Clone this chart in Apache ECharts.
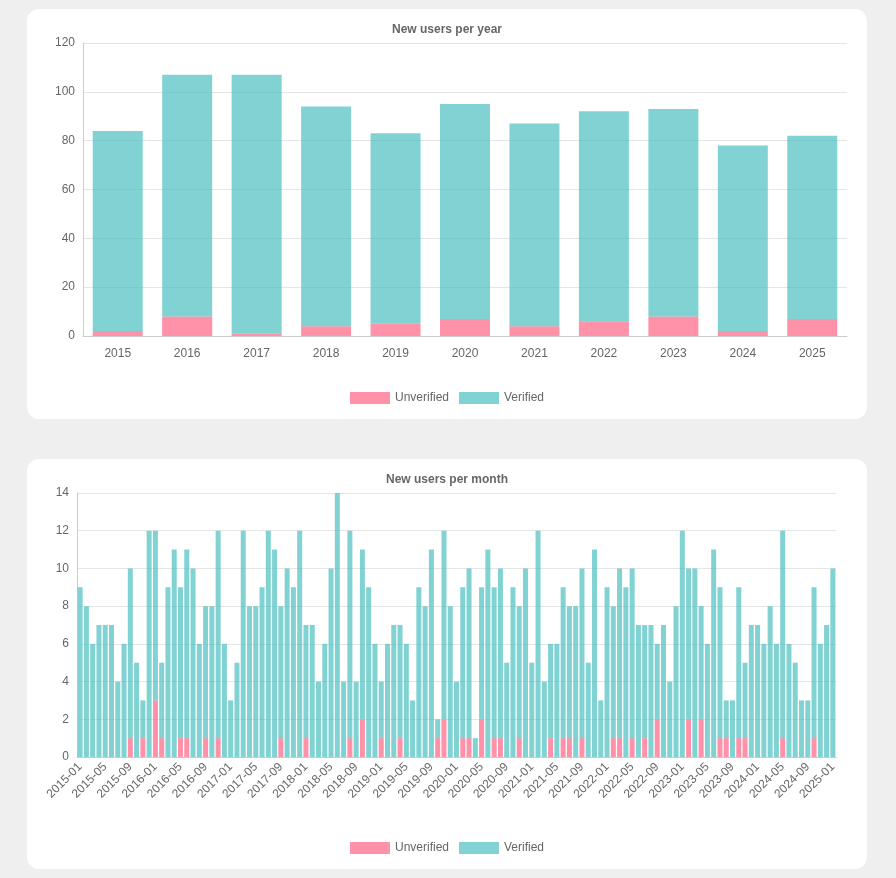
<!DOCTYPE html>
<html>
<head>
<meta charset="utf-8">
<script src="https://cdn.jsdelivr.net/npm/echarts@6/dist/echarts.min.js"></script>
<style>
body{margin:0;background:#efefef;font-family:"Liberation Sans",Arial,sans-serif;}
.card{position:absolute;left:27px;width:840px;height:410px;background:#fff;border-radius:12px;}
</style>
</head>
<body>
<div class="card" id="yearChart" style="top:9px"></div>
<div class="card" id="monthChart" style="top:459px"></div>
<script>
var years = ['2015','2016','2017','2018','2019','2020','2021','2022','2023','2024','2025'];
var yearUnverified = [2,8,1,4,5,7,4,6,8,2,7];
var yearVerified = [82,99,106,90,78,88,83,86,85,76,75];

var months = [];
for (var y = 2015; y <= 2025; y++) {
    for (var m = 1; m <= 12; m++) {
        if (y == 2025 && m > 1) break;
        months.push(y + '-' + (m < 10 ? '0' + m : m));
    }
}
var monthUnverified = [
    0,0,0,0,0,0,0,0,1,0,1,0,
    3,1,0,0,1,1,0,0,1,0,1,0,
    0,0,0,0,0,0,0,0,1,0,0,0,
    1,0,0,0,0,0,0,1,0,2,0,0,
    1,0,0,1,0,0,0,0,0,1,2,0,
    0,1,1,0,2,0,1,1,0,0,1,0,
    0,0,0,1,0,1,1,0,1,0,0,0,
    0,1,1,0,1,0,1,0,2,0,0,0,
    0,2,0,2,0,0,1,1,0,1,1,0,
    0,0,0,0,1,0,0,0,0,1,0,0,
    0];
var monthVerified = [
    9,8,6,7,7,7,4,6,9,5,2,12,
    9,4,9,11,8,10,10,6,7,8,11,6,
    3,5,12,8,8,9,12,11,7,10,9,12,
    6,7,4,6,10,14,4,11,4,9,9,6,
    3,6,7,6,6,3,9,8,11,1,10,8,
    4,8,9,1,7,11,8,9,5,9,7,10,
    5,12,4,5,6,8,7,8,9,5,11,3,
    9,7,9,9,9,7,6,7,4,7,4,8,
    12,8,10,6,6,11,8,2,3,8,4,7,
    7,6,8,6,11,6,5,3,3,8,6,7,
    10];

var pink = 'rgba(255,99,132,0.7)';
var teal = 'rgba(75,192,192,0.7)';
var txt = '#666';

function makeOption(title, cats, unv, ver, grid, yMax, yInt, barW, xLabel) {
    return {
        animation: false,
        title: { text: title, left: 'center', top: 10, textStyle: { fontSize: 12, fontWeight: 'bold', color: txt } },
        legend: {
            bottom: 10, itemWidth: 40, itemHeight: 12, itemGap: 10, icon: 'rect',
            textStyle: { color: txt, fontSize: 12 },
            data: ['Unverified', 'Verified']
        },
        grid: grid,
        xAxis: {
            type: 'category', data: cats,
            axisLine: { lineStyle: { color: '#ccc' } },
            axisTick: { show: false },
            axisLabel: xLabel
        },
        yAxis: {
            type: 'value', min: 0, max: yMax, interval: yInt,
            axisLine: { show: true, lineStyle: { color: '#ccc' } },
            splitLine: { lineStyle: { color: '#e5e5e5' } },
            axisLabel: { color: txt, fontSize: 12 }
        },
        series: [
            { name: 'Unverified', type: 'bar', stack: 'u', data: unv, barWidth: barW,
              itemStyle: { color: pink } },
            { name: 'Verified', type: 'bar', stack: 'u', data: ver, barWidth: barW,
              itemStyle: { color: teal } }
        ]
    };
}

echarts.init(document.getElementById('yearChart')).setOption(makeOption(
    'New users per year', years, yearUnverified, yearVerified,
    { left: 56, right: 20, top: 34, bottom: 83 }, 120, 20, '72%',
    { color: txt, fontSize: 12, margin: 12 }));

echarts.init(document.getElementById('monthChart')).setOption(makeOption(
    'New users per month', months, monthUnverified, monthVerified,
    { left: 50, right: 31, top: 34, bottom: 112 }, 14, 2, '80%',
    { color: txt, fontSize: 12, rotate: 45, interval: 3, margin: 8 }));
</script>
</body>
</html>
